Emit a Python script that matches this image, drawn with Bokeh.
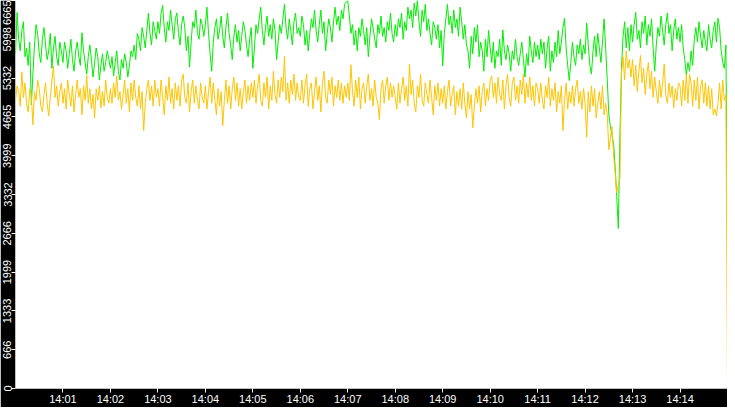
import pandas as pd
from bokeh.plotting import figure
from bokeh.models import ColumnDataSource, FixedTicker, DatetimeTickFormatter
from bokeh.embed import file_html
from bokeh.resources import INLINE

# samples every 2 s from 14:00:00 to 14:15:00
start = "2024-01-01 14:00:00"
step = "2s"

green = [
  # 14:00
  5750, 6460, 6000, 5800, 6150, 6300, 5700, 5850, 5550, 5950,
  4870, 5400, 5900, 6250, 6100, 5750, 5600, 6000, 6200, 5900,
  5650, 5800, 6100, 5500, 5850, 6050, 5700, 5550, 5950, 5800,
  # 14:01
  5600, 5950, 5800, 5500, 5750, 6000, 5650, 5450, 5800, 5950,
  5700, 5550, 6110, 5800, 5600, 5400, 5700, 5900, 5650, 5350,
  5600, 5850, 5700, 5300, 5550, 5750, 5450, 5600, 5800, 5650,
  # 14:02
  5500, 5700, 5370, 5600, 5800, 5450, 5300, 5650, 5500, 5750,
  5600, 5350, 5550, 5800, 5700, 5900, 5650, 6100, 6000, 5800,
  6200, 6050, 5850, 6150, 6450, 6100, 5900, 6300, 6150, 6000,
  # 14:03
  6300, 6100, 6450, 6580, 6200, 5950, 6300, 6150, 6500, 6250,
  6000, 6350, 6450, 6100, 5900, 6250, 6400, 6200, 5800, 6050,
  5520, 5950, 6300, 6200, 6500, 6100, 6000, 6350, 6250, 6050,
  # 14:04
  6250, 6550, 6100, 5750, 5450, 5950, 6200, 6350, 6000, 6150,
  6400, 6050, 5850, 6200, 6450, 6100, 5900, 5650, 6050, 6250,
  5950, 6150, 5800, 6050, 6300, 6150, 5900, 5700, 6000, 6200,
  # 14:05
  5500, 5850, 6250, 6100, 6350, 6550, 6150, 5900, 6200, 6400,
  6050, 6250, 6000, 6350, 6150, 5650, 5950, 6250, 6100, 6350,
  6600, 6200, 6000, 6350, 6150, 5900, 6300, 6450, 6100, 6200,
  # 14:06
  6050, 6400, 6250, 5900, 6150, 5800, 6100, 6350, 6200, 6500,
  6150, 5950, 6250, 6500, 6100, 6300, 5800, 6100, 6350, 6200,
  5950, 6300, 6550, 6250, 6400, 6150, 6500, 6350, 6600, 6640,
  # 14:07
  6660, 6400, 6100, 6250, 5900, 6150, 5800, 6200, 6050, 6350,
  6150, 5900, 6200, 5700, 6050, 6350, 6200, 6000, 5850, 6250,
  6100, 6400, 6050, 6200, 5950, 6300, 6150, 6450, 6100, 5950,
  # 14:08
  6250, 6050, 6350, 6200, 6450, 6000, 6300, 6150, 6550, 6350,
  6500, 6200, 6620, 6400, 6665, 6300, 6050, 6500, 6300, 6600,
  6150, 6350, 6100, 5900, 6300, 6200, 6000, 6250, 5850, 6150,
  # 14:09
  5540, 6100, 6350, 6600, 6250, 6400, 6100, 6500, 6200, 6350,
  6050, 6550, 6300, 6000, 6250, 5900, 5800, 5500, 6050, 5750,
  6200, 5950, 6250, 5700, 5950, 5800, 5450, 6000, 5700, 6150,
  # 14:10
  5850, 5600, 5950, 5500, 5800, 5700, 6000, 5550, 6160, 5800,
  5650, 5900, 5750, 5450, 5800, 5650, 6000, 5700, 5550, 5750,
  5950, 5650, 5350, 5750, 5550, 6050, 5800, 5600, 5950, 5700,
  # 14:11
  5900, 5650, 6000, 5750, 5950, 5500, 5850, 6050, 5450, 5800,
  5600, 5950, 5700, 6150, 5750, 5950, 6200, 6360, 5850, 5550,
  5290, 5600, 5950, 5700, 5550, 5900, 5750, 6000, 5650, 5900,
  # 14:12
  5750, 6280, 5900, 5550, 5400, 5800, 6050, 5700, 6100, 5850,
  5600, 5950, 6350, 5850, 5300, 4700, 4500, 4350, 4200, 3800,
  3300, 2750, 4300, 5500, 6050, 6300, 5850, 6200, 5800, 6250,
  # 14:13
  5950, 6250, 6460, 6000, 6150, 5850, 6300, 6100, 6400, 5900,
  6250, 6050, 6350, 5850, 5450, 5900, 6200, 6050, 6400, 6150,
  5900, 6250, 6450, 6100, 6250, 5800, 6150, 6350, 6000, 6200,
  # 14:14
  5950, 6250, 5850, 5650, 5380, 5600, 5450, 5800, 5550, 6000,
  6200, 5950, 6300, 6050, 5850, 6150, 5950, 5800, 6250, 6000,
  5850, 6150, 6300, 5950, 6360, 6200, 5800, 5600, 5500, 5900,
  2330,
]

orange = [
  # 14:00
  4950, 5200, 5100, 4850, 5440, 5000, 5250, 4900, 4750, 5150,
  5050, 4530, 5100, 4950, 5300, 5150, 4850, 4750, 5050, 5250,
  4900, 4680, 5000, 5300, 5540, 5000, 5200, 4850, 5100, 5250,
  # 14:01
  4900, 5150, 4800, 5300, 5050, 4850, 5200, 4750, 5050, 5300,
  5000, 5150, 4700, 5200, 4950, 5380, 4900, 5150, 4800, 5050,
  4650, 5150, 4950, 5200, 4820, 5100, 4850, 5300, 5000, 4900,
  # 14:02
  5150, 4900, 5250, 5000, 5370, 4950, 5100, 4800, 5050, 5300,
  4900, 5150, 4750, 5250, 4950, 5300, 5000, 4850, 5200, 4800,
  5100, 4430, 4900, 5150, 5300, 4950, 5200, 4850, 5300, 5000,
  # 14:03
  5150, 4850, 5300, 5000, 4700, 5200, 4950, 5350, 4900, 5150,
  4800, 5250, 4950, 5200, 4850, 5300, 5400, 5000, 4900, 5250,
  4750, 5100, 5300, 4900, 5200, 4950, 4800, 5250, 5000, 4900,
  # 14:04
  5200, 4800, 5100, 5350, 4900, 5250, 4950, 4700, 5150, 4850,
  5100, 4515, 4950, 5300, 4900, 5200, 4800, 5150, 5350, 4950,
  5250, 4850, 5150, 4800, 5100, 5300, 4900, 5200, 4950, 5250,
  # 14:05
  5000, 5300, 4900, 5200, 5400, 4950, 4850, 5250, 5000, 5350,
  4800, 5200, 4950, 5450, 5050, 4900, 5300, 5000, 5350, 5100,
  5710, 4950, 5250, 4900, 5300, 5050, 5400, 4950, 5250, 5000,
  # 14:06
  4950, 5300, 4900, 5200, 5400, 4850, 5150, 5250, 4800, 5100,
  5350, 4950, 5200, 4750, 5250, 5450, 5000, 4900, 5300, 5050,
  5350, 4850, 5200, 5000, 5300, 4950, 5250, 4900, 5200, 5000,
  # 14:07
  5250, 4950, 5560, 5100, 4850, 5300, 5000, 5350, 4800, 5150,
  5250, 4900, 5200, 5400, 4950, 5150, 4850, 5300, 5000, 4900,
  4620, 5150, 5300, 4900, 5200, 5350, 4950, 5250, 5000, 5200,
  # 14:08
  5000, 4800, 5250, 4900, 5150, 5350, 4950, 5200, 4850, 5575,
  5050, 5300, 4900, 4750, 5200, 5000, 5400, 4950, 4850, 5250,
  5050, 4900, 5300, 5000, 4700, 5200, 4950, 5250, 4850, 5150,
  # 14:09
  4900, 5200, 4800, 5100, 5300, 4850, 5050, 5200, 4700, 5100,
  4850, 5150, 4800, 5250, 4900, 4650, 5100, 4800, 5050, 4480,
  4850, 5150, 4900, 5200, 4750, 5100, 5250, 4850, 5150, 4950,
  # 14:10
  5300, 5370, 5000, 5250, 4900, 5350, 5050, 4950, 5300, 4800,
  5200, 5400, 5000, 4850, 5250, 5350, 4950, 5200, 4900, 5300,
  5050, 5400, 4900, 5250, 5000, 5350, 4950, 5200, 4850, 5250,
  # 14:11
  5150, 4900, 5250, 4950, 4800, 5200, 5000, 5350, 4850, 5150,
  4950, 5250, 4750, 5100, 4900, 5200, 4430, 4950, 5250, 4800,
  5100, 4900, 5200, 4850, 5150, 5300, 4900, 5100, 4800, 5150,
  # 14:12
  4900, 4315, 5100, 4750, 5200, 4850, 5150, 4650, 4900, 5100,
  4800, 5200, 4700, 4900, 4700, 4100, 4300, 4500, 4000, 3700,
  3360, 3500, 3600, 5400, 5700, 5300, 5800, 5500, 5650, 5350,
  # 14:13
  5650, 5200, 5550, 5100, 5450, 5720, 5250, 5500, 5050, 5400,
  5600, 5150, 5450, 5000, 5350, 5100, 4900, 5300, 5000, 5250,
  5575, 5050, 4900, 5250, 5000, 5200, 4820, 5150, 4950, 5250,
  # 14:14
  5200, 4850, 5300, 4950, 5400, 4900, 5400, 5250, 4850, 5300,
  4950, 5350, 4800, 5200, 5300, 4900, 5250, 4850, 5200, 4800,
  5150, 4700, 4800, 4680, 4900, 5250, 4800, 5300, 4950, 5040,
  0,
]

x_tick_labels = ["14:01", "14:02", "14:03", "14:04", "14:05", "14:06", "14:07",
                 "14:08", "14:09", "14:10", "14:11", "14:12", "14:13", "14:14"]
y_tick_values = [0, 666.5, 1333, 1999.5, 2666, 3332.5, 3999, 4665.5, 5332, 5998.5, 6665]
y_tick_labels = ["0", "666", "1333", "1999", "2666", "3332", "3999", "4665", "5332", "5998", "6665"]

times = pd.date_range(start, periods=len(green), freq=step)
source = ColumnDataSource(dict(t=times, green=green, orange=orange))

x_ticks = [pd.Timestamp("2024-01-01 " + s).value / 1e6 for s in x_tick_labels]

p = figure(
  width=727, height=407,
  x_axis_type="datetime",
  x_range=(times[0], times[-1]),
  y_range=(0, 6665),
  output_backend="svg", toolbar_location=None, tools="",
  min_border_left=15, min_border_bottom=17, min_border_top=0, min_border_right=0,
  background_fill_color="white", border_fill_color="black",
  outline_line_color=None,
)
p.grid.visible = False

p.xaxis.ticker = FixedTicker(ticks=x_ticks)
p.xaxis.formatter = DatetimeTickFormatter(minutes="%H:%M", hourmin="%H:%M", minsec="%H:%M")
p.yaxis.ticker = FixedTicker(ticks=y_tick_values)
p.yaxis.major_label_overrides = dict(zip(y_tick_values, y_tick_labels))
p.yaxis.major_label_orientation = "vertical"

for ax in (p.xaxis, p.yaxis):
  ax.axis_line_color = None
  ax.major_tick_line_color = "white"
  ax.major_tick_out = 4
  ax.major_tick_in = 0
  ax.minor_tick_line_color = None
  ax.major_label_text_color = "white"
  ax.major_label_text_font = "Liberation Sans"
  ax.major_label_text_font_size = "11px"
  ax.major_label_standoff = 0

p.line(x="t", y="green", source=source, color="#00ee00", line_width=1)
p.line(x="t", y="orange", source=source, color="#ffc400", line_width=1)

open("out.html", "w").write(file_html(p, INLINE))
